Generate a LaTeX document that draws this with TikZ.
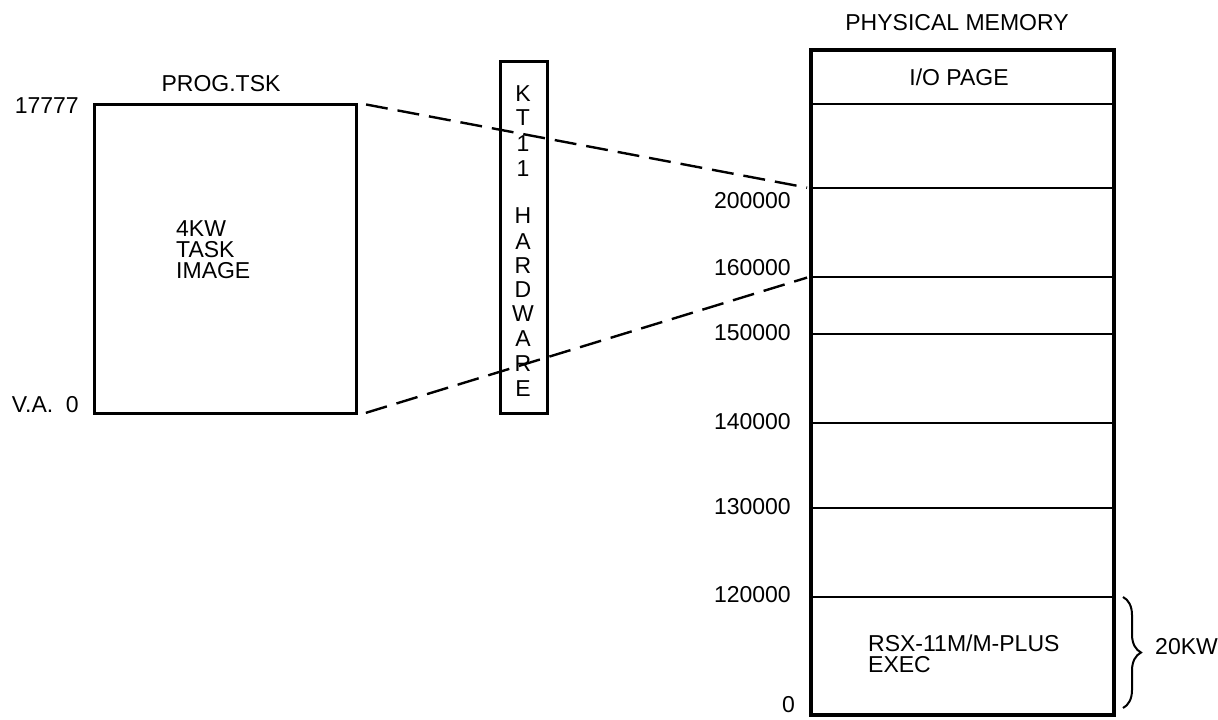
\documentclass[tikz,border=0pt]{standalone}
\usepackage{fontspec}
\setmainfont{Liberation Sans}
\usetikzlibrary{decorations.pathreplacing}

\begin{document}
\begin{tikzpicture}
[
    x=1pt, y=-1pt,
    lbl/.style={font=\fontsize{23}{21}\selectfont, inner sep=0pt},
    frame/.style={draw, line width=3.2pt, inner sep=0pt},
    row/.style={line width=2pt},
    map/.style={line width=2.4pt, dash pattern=on 22pt off 10pt, shorten <=8pt, shorten >=2pt}
]
    \useasboundingbox (0,0) rectangle (1218,720);

    % task image
    \node [frame, anchor=north west, minimum width=262pt, minimum height=309pt] (task) at (93,103) {};
    \node [lbl] (tskname) at (221,84) {PROG.TSK};
    \node [lbl, anchor=east] (top) at (79,106) {17777};
    \node [lbl, anchor=east] (va) at (79,405) {V.A.\ \ 0};
    \node [lbl, anchor=west, align=left] (img) at (176,250) {4KW\\TASK\\IMAGE};

    % KT11 hardware
    \node [frame, anchor=north west, minimum width=47pt, minimum height=352pt] (kt) at (499,60) {};
    \foreach \c/\y in {K/94, T/118, 1/144, 1/169, H/216, A/242, R/266, D/290, W/314, A/339, R/364, E/389}
        \node [lbl] (kt\y) at (523,\y) {\c};

    % physical memory
    \node [frame, line width=3.6pt, anchor=north west, minimum width=303pt, minimum height=665pt] (mem) at (809,48) {};
    \node [lbl] (memname) at (957,23) {PHYSICAL MEMORY};
    \node [lbl] (io) at (959,77) {I/O PAGE};
    \foreach \y in {104, 188, 277, 334, 423, 508, 597}
        \draw [row] (mem.west |- 0,\y) -- (mem.east |- 0,\y);
    \foreach \a/\y in {200000/201, 160000/268, 150000/333, 140000/422, 130000/507, 120000/595}
        \node [lbl, anchor=east] (a\a) at (791,\y) {\a};
    \node [lbl, anchor=east] (a0) at (795,705) {0};
    \node [lbl, anchor=west, align=left] (exec) at (868,654) {RSX-11M/M-PLUS\\EXEC};

    % exec size
    \coordinate (bt) at (1123,597);
    \coordinate (bb) at (1123,708);
    \draw [line width=2pt, decorate, decoration={brace, amplitude=18pt}] (bt) -- (bb);
    \node [lbl, anchor=west] (kw) at (1155,647) {20KW};

    % mapping
    \coordinate (m200) at (mem.west |- 0,188);
    \coordinate (m160) at (mem.west |- 0,277);
    \draw [map] (task.north east) -- (m200);
    \draw [map] (task.south east) -- (m160);
\end{tikzpicture}
\end{document}
